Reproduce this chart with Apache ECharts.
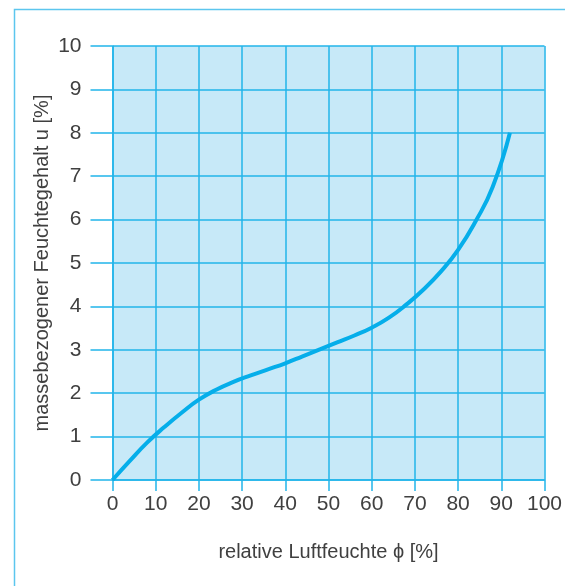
<!DOCTYPE html>
<html><head><meta charset="utf-8">
<script src="https://cdn.jsdelivr.net/npm/echarts@6/dist/echarts.min.js"></script>
<style>html,body{margin:0;padding:0;background:#fff}#c{width:565px;height:586px}</style>
</head><body><div id="c"></div>
<script>
const xValues = [0, 4, 8, 12, 16, 20, 24, 28, 32, 36, 40, 44, 48, 52, 56, 60, 64, 68, 72, 76, 80, 84, 88, 92];
const yValues = [0, 0.44, 0.86, 1.22, 1.55, 1.85, 2.08, 2.26, 2.41, 2.55, 2.69, 2.85, 3.01, 3.17, 3.33, 3.51, 3.74, 4.04, 4.39, 4.8, 5.3, 5.95, 6.75, 8.0];
const xTicks = [0, 10, 20, 30, 40, 50, 60, 70, 80, 90, 100];
const yTicks = [0, 1, 2, 3, 4, 5, 6, 7, 8, 9, 10];
const xName = 'relative Luftfeuchte \u03d5 [%]';
const yName = 'massebezogener Feuchtegehalt u [%]';

const gridColor = '#22b5ea';
const textColor = '#404040';
const font = 'Liberation Sans, Arial, Helvetica, sans-serif';
const chart = echarts.init(document.getElementById('c'), null, {renderer: 'canvas'});
chart.setOption({
  animation: false,
  graphic: [{
    type: 'rect', left: 12, top: 7, z: -10,
    shape: {x: 0, y: 0, width: 620, height: 620},
    style: {fill: 'none', stroke: '#5cc6ee', lineWidth: 1.5}
  }],
  grid: {left: 112.5, right: 18.5, top: 46, bottom: 106, show: true, backgroundColor: '#c7e9f8', borderWidth: 0},
  xAxis: {
    type: 'value', min: xTicks[0], max: xTicks[xTicks.length - 1], interval: 10,
    name: xName, nameLocation: 'middle', nameGap: 62, nameMoveOverlap: false,
    nameTextStyle: {fontFamily: font, fontSize: 20, color: textColor},
    axisLine: {show: true, lineStyle: {color: gridColor, width: 1.5}},
    axisTick: {show: true, length: 11, lineStyle: {color: gridColor, width: 1.5}},
    axisLabel: {margin: 14, fontFamily: font, fontSize: 21, color: textColor},
    splitLine: {show: true, lineStyle: {color: gridColor, width: 1.5}}
  },
  yAxis: {
    type: 'value', min: yTicks[0], max: yTicks[yTicks.length - 1], interval: 1,
    name: yName, nameLocation: 'middle', nameGap: 60, nameRotate: 90, nameMoveOverlap: false,
    nameTextStyle: {fontFamily: font, fontSize: 20, color: textColor},
    axisLine: {show: true, lineStyle: {color: gridColor, width: 1.5}},
    axisTick: {show: true, length: 22, lineStyle: {color: gridColor, width: 1.5}},
    axisLabel: {margin: 31, fontFamily: font, fontSize: 21, color: textColor},
    splitLine: {show: true, lineStyle: {color: gridColor, width: 1.5}}
  },
  series: [{
    type: 'line', smooth: 0.5, showSymbol: false, symbol: 'none',
    data: xValues.map((x, i) => [x, yValues[i]]),
    lineStyle: {color: '#05aeea', width: 4}, z: 5
  }]
});
</script></body></html>
